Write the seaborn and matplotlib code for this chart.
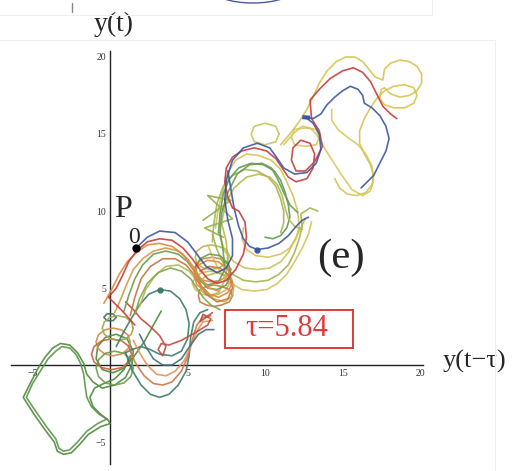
import numpy as np
import pandas as pd
import matplotlib
matplotlib.use("Agg")
import matplotlib.pyplot as plt
from matplotlib.patches import Rectangle, Ellipse
from matplotlib.lines import Line2D
import seaborn as sns

sns.set_theme(style="white")
plt.rcParams['font.family'] = ['Liberation Serif', 'DejaVu Serif']

# ---------------- data (data units) ----------------
green_loop_x = [1.3, 0.9, 0.3, -0.4, -1.0, -1.3, -1.1, -0.6, -0.1, 0.0, -0.6, -1.4, -2.0, -2.5, -3.0, -3.4, -3.6, -4.2, -4.9, -5.6, -5.2, -4.7, -4.2, -3.7, -3.2, -2.6, -2.1, -1.7, -1.5, -1.1, -0.5, 0.3, 1.0, 1.4, 1.5, 1.1, 0.4, -0.3, -0.8, -0.9, -0.5, 0.2, 0.9, 1.5, 2.2, 2.8, 3.3]
green_loop_y = [0.6, -0.3, -0.9, -1.2, -1.5, -2.1, -2.7, -3.2, -3.6, -3.8, -4.0, -4.5, -5.2, -5.7, -5.8, -5.6, -5.0, -4.2, -3.2, -2.1, -1.3, -0.3, 0.5, 1.1, 1.4, 1.3, 0.8, 0.1, -0.6, -1.1, -1.5, -1.3, -0.8, 0.0, 0.9, 1.7, 2.0, 1.8, 1.2, 0.4, -0.3, -0.5, -0.2, 0.5, 1.5, 2.6, 3.5]
green_inner_x = [-0.2, -0.8, -1.5, -2.1, -2.6, -3.0, -3.3, -3.5, -4.1, -4.8, -5.4, -5.0, -4.5, -4.0, -3.5, -3.1, -2.6, -2.2, -1.9, -1.7, -1.6, -1.5, -1.2, -0.7, -0.2]
green_inner_y = [-3.5, -3.8, -4.3, -5.0, -5.5, -5.6, -5.4, -4.8, -4.0, -3.0, -2.1, -1.2, -0.4, 0.4, 0.9, 1.2, 1.1, 0.7, 0.1, -0.6, -1.4, -2.1, -2.7, -3.2, -3.5]

oval1_x = [1.3, 1.16, 0.75, 0.2, -0.35, -0.76, -0.9, -0.76, -0.35, 0.2, 0.75, 1.16, 1.3]
oval1_y = [1.5, 1.95, 2.28, 2.4, 2.28, 1.95, 1.5, 1.05, 0.72, 0.6, 0.72, 1.05, 1.5]
oval2_x = [1.4, 1.23, 0.75, 0.1, -0.55, -1.03, -1.2, -1.03, -0.55, 0.1, 0.75, 1.23, 1.4]
oval2_y = [0.7, 1.2, 1.57, 1.7, 1.57, 1.2, 0.7, 0.2, -0.17, -0.3, -0.17, 0.2, 0.7]
oval3_x = [1.5, 1.34, 0.9, 0.3, -0.3, -0.74, -0.9, -0.74, -0.3, 0.3, 0.9, 1.34, 1.5]
oval3_y = [-0.2, 0.35, 0.76, 0.9, 0.76, 0.35, -0.2, -0.75, -1.16, -1.3, -1.16, -0.75, -0.2]
oval4_x = [0.4, 0.2, -0.2, -0.4, -0.2, 0.2, 0.4]
oval4_y = [3.1, 3.32, 3.32, 3.1, 2.88, 2.88, 3.1]
oval5_x = [1.5, 1.37, 1.0, 0.5, 0.0, -0.37, -0.5, -0.37, 0.0, 0.5, 1.0, 1.37, 1.5]
oval5_y = [2.4, 2.8, 3.1, 3.2, 3.1, 2.8, 2.4, 2.0, 1.7, 1.6, 1.7, 2.0, 2.4]

teal_x = [0.4, 0.8, 1.3, 1.9, 2.5, 3.2, 3.9, 4.5, 4.9, 5.1, 5.0, 4.6, 4.0, 3.2, 2.6, 2.0, 1.4, 1.0]
teal_y = [1.2, 2.0, 2.9, 3.9, 4.6, 4.9, 4.8, 4.3, 3.6, 2.7, 1.7, 0.9, 0.6, 0.7, 1.0, 1.2, 1.0, 0.8]
arc1_x = [1.0, 1.4, 2.0, 2.6, 3.2, 3.8, 4.4, 4.9, 5.1, 5.2, 5.4, 5.8, 6.3]
arc1_y = [0.8, -0.3, -1.3, -1.9, -2.1, -1.9, -1.3, -0.4, 0.6, 1.8, 2.8, 3.4, 3.6]
arc2_x = [1.2, 1.6, 2.2, 2.8, 3.4, 4.0, 4.6, 5.0, 5.3, 5.6, 6.0, 6.5]
arc2_y = [1.2, 0.2, -0.7, -1.2, -1.3, -1.1, -0.4, 0.5, 1.6, 2.6, 3.1, 3.2]
arc3_x = [1.5, 1.9, 2.4, 3.0, 3.6, 4.2, 4.8, 5.2, 5.6, 6.0, 6.6]
arc3_y = [1.6, 0.8, 0.0, -0.6, -0.7, -0.4, 0.3, 1.2, 2.2, 2.8, 2.9]
arc4_x = [1.9, 2.3, 2.8, 3.4, 4.0, 4.6, 5.2, 5.7, 6.2, 6.7]
arc4_y = [2.0, 1.2, 0.4, 0.0, 0.0, 0.4, 1.3, 2.0, 2.3, 2.3]
red_low_x = [6.6, 6.2, 5.8, 6.0, 6.5, 6.3, 5.5, 4.6, 3.8, 3.3, 3.1, 3.4, 3.6, 3.2, 2.6, 2.0, 1.5, 1.0]
red_low_y = [3.4, 3.1, 2.8, 3.3, 3.0, 2.6, 2.1, 1.6, 1.3, 1.4, 1.0, 0.6, 1.2, 1.9, 2.5, 3.0, 3.6, 4.1]

# stacked loops right of the P0 humps
col_oval1_x = [7.7, 7.5, 7.0, 6.5, 6.0, 5.6, 5.5, 5.6, 6.0, 6.5, 7.0, 7.5, 7.7]
col_oval1_y = [7.1, 7.5, 7.7, 7.8, 7.7, 7.4, 7.0, 6.6, 6.3, 6.2, 6.3, 6.6, 7.1]
col_oval2_x = [7.8, 7.6, 7.1, 6.6, 6.0, 5.6, 5.4, 5.6, 6.0, 6.6, 7.1, 7.6, 7.8]
col_oval2_y = [6.2, 6.6, 6.9, 7.0, 6.9, 6.6, 6.2, 5.8, 5.5, 5.4, 5.5, 5.8, 6.2]
col_oval3_x = [7.7, 7.5, 7.0, 6.5, 5.9, 5.5, 5.3, 5.5, 5.9, 6.5, 7.0, 7.5, 7.7]
col_oval3_y = [5.3, 5.7, 6.0, 6.1, 6.0, 5.7, 5.3, 4.9, 4.6, 4.5, 4.6, 4.9, 5.3]
col_oval4_x = [7.9, 7.7, 7.2, 6.7, 6.2, 5.8, 5.7, 5.8, 6.2, 6.7, 7.2, 7.7, 7.9]
col_oval4_y = [4.5, 4.9, 5.1, 5.2, 5.1, 4.9, 4.5, 4.1, 3.9, 3.8, 3.9, 4.1, 4.5]

blue1_x = [1.7, 2.4, 3.2, 4.2, 5.0, 5.6, 6.2, 6.9, 7.5, 7.9, 7.9, 7.6, 7.4, 7.5, 7.9, 8.6, 9.5, 10.3, 10.8, 11.2, 11.9, 12.7, 13.3, 13.6, 13.5, 13.1, 12.6]
blue1_y = [7.6, 8.3, 8.7, 8.6, 8.0, 7.2, 6.4, 6.0, 6.3, 7.1, 8.2, 9.4, 10.7, 12.0, 13.3, 14.1, 14.4, 14.1, 13.4, 12.8, 12.4, 12.5, 13.1, 14.0, 15.0, 15.7, 16.1]
blue2_x = [12.5, 13.1, 13.6, 14.0, 14.5, 15.0, 15.5, 16.0, 16.3, 16.4, 16.9, 17.4, 17.8, 18.0, 17.8, 17.4, 17.0, 16.5, 16.2]
blue2_y = [16.1, 16.0, 16.3, 16.9, 17.4, 17.8, 18.1, 17.9, 17.5, 17.0, 16.7, 16.2, 15.5, 14.7, 13.9, 13.1, 12.3, 11.8, 11.5]
blue3_x = [7.6, 7.8, 8.0, 8.3, 8.6, 9.0, 9.5, 10.2, 10.9, 11.5, 12.0, 12.4, 12.8]
blue3_y = [12.6, 11.4, 10.2, 9.0, 8.2, 7.7, 7.5, 7.6, 7.9, 8.4, 9.0, 9.4, 9.6]

red_x = [1.6, 0.8, -0.1, 0.4, 0.8, 1.2, 1.7, 2.4, 3.2, 4.0, 4.7, 5.3, 5.8, 6.3, 6.9, 7.5, 8.1, 8.6, 8.8, 8.7, 8.3, 7.9, 7.6, 7.4, 7.5, 7.9, 8.5, 9.3, 10.1, 10.7, 11.1, 11.5, 12.0, 12.7, 13.1, 13.2, 12.9, 12.3, 11.8, 11.7, 12.0, 12.6, 13.2, 13.7, 13.5, 13.0, 12.9, 13.5, 14.2, 15.0, 15.7, 16.3, 16.8, 17.2, 17.6, 18.1, 18.5]
red_y = [2.6, 3.5, 4.4, 5.0, 5.8, 6.7, 7.4, 8.0, 8.2, 8.1, 7.6, 6.9, 6.2, 5.6, 5.3, 5.5, 6.2, 7.2, 8.3, 9.3, 10.0, 10.2, 10.9, 11.9, 12.8, 13.5, 13.9, 14.1, 13.9, 13.4, 12.8, 12.2, 11.9, 12.1, 12.8, 13.7, 14.4, 14.6, 14.1, 13.3, 12.6, 12.6, 13.2, 14.2, 15.2, 16.0, 17.2, 17.9, 18.6, 19.1, 19.3, 19.0, 18.4, 17.6, 16.8, 16.3, 16.0]

orange_x = [-0.4, 0.1, 0.6, 1.1, 1.7, 2.4, 3.2, 4.0, 4.7, 5.2, 5.6, 5.9, 6.4, 7.0, 7.6, 7.9, 7.6, 7.0, 6.3, 5.7, 5.4, 5.6, 6.2]
orange_y = [4.0, 4.9, 5.9, 6.7, 7.3, 7.8, 7.9, 7.7, 7.2, 6.5, 5.8, 5.1, 4.6, 4.4, 4.7, 5.4, 6.2, 6.7, 6.8, 6.5, 5.9, 5.2, 4.8]
orange2_x = [0.3, 0.7, 1.1, 1.5, 2.1, 2.8, 3.6, 4.4, 5.0, 5.5, 5.9, 6.4, 7.0]
orange2_y = [3.4, 4.3, 5.3, 6.2, 6.9, 7.4, 7.6, 7.4, 6.9, 6.2, 5.5, 5.0, 4.8]
green_x = [0.9, 1.2, 1.6, 2.1, 2.8, 3.6, 4.4, 5.0, 5.5, 5.9, 6.3, 6.9, 7.5, 7.8, 7.6, 7.1, 6.4, 5.8, 5.5, 5.7, 6.3, 7.0, 7.4, 7.3, 7.1, 7.2, 7.6, 8.2, 9.0, 9.8, 10.4, 10.8, 11.2, 11.6, 12.1]
green_y = [3.5, 4.5, 5.6, 6.5, 7.2, 7.4, 7.2, 6.7, 6.0, 5.4, 5.0, 4.9, 5.2, 5.9, 6.6, 7.1, 7.2, 6.9, 6.3, 5.6, 5.2, 5.4, 6.2, 7.4, 8.6, 9.9, 11.2, 12.4, 13.0, 13.1, 12.8, 12.1, 11.2, 10.4, 9.9]
green2_x = [1.6, 1.9, 2.4, 3.1, 3.9, 4.6, 5.2, 5.6, 6.0, 6.5, 7.1]
green2_y = [3.3, 4.3, 5.3, 6.0, 6.3, 6.1, 5.6, 5.0, 4.4, 3.9, 3.6]
brown_x = [1.3, 1.6, 2.0, 2.6, 3.4, 4.2, 4.9, 5.4, 5.8, 6.2, 6.9, 7.6, 7.9, 7.7, 7.1, 6.4, 5.8]
brown_y = [3.2, 4.4, 5.6, 6.4, 6.9, 6.9, 6.5, 5.9, 5.2, 4.6, 4.1, 4.3, 5.0, 5.8, 6.3, 6.4, 6.1]
olive_x = [1.9, 2.3, 2.9, 3.6, 4.4, 5.1, 5.6, 6.1, 6.7, 7.4, 7.9, 8.0, 7.6, 6.9, 6.2, 5.8, 5.9, 6.4, 7.0, 7.4, 7.6, 7.5, 7.2, 7.4, 8.0, 8.8, 9.6, 10.3, 10.8, 11.1, 11.3, 11.5, 11.9, 12.4]
olive_y = [3.8, 4.9, 5.8, 6.4, 6.5, 6.1, 5.5, 4.9, 4.3, 4.1, 4.5, 5.2, 5.8, 6.0, 5.8, 5.4, 4.8, 4.5, 4.7, 5.5, 6.7, 8.0, 9.2, 10.4, 11.5, 12.2, 12.4, 12.2, 11.7, 11.0, 10.2, 9.5, 9.0, 8.8]

mid_yellow_x = [6.8, 7.0, 7.3, 7.6, 8.1, 8.8, 9.6, 10.4, 11.0, 11.4, 11.8, 12.1, 12.2, 12.0, 11.6, 11.0, 10.2, 9.4, 8.8, 8.5, 8.6]
mid_yellow_y = [8.9, 10.2, 11.4, 12.5, 13.3, 13.7, 13.6, 13.3, 12.7, 11.9, 11.0, 10.0, 9.0, 8.2, 7.6, 7.2, 7.0, 7.1, 7.5, 8.2, 8.9]
mid_u1_x = [6.6, 6.9, 7.3, 7.9, 8.6, 9.4, 10.2, 10.9, 11.5, 11.9, 12.2, 12.4, 12.3, 12.9, 13.4]
mid_u1_y = [8.5, 7.5, 6.6, 5.9, 5.5, 5.4, 5.5, 5.9, 6.5, 7.3, 8.2, 9.0, 9.8, 10.2, 10.0]
mid_u2_x = [6.3, 6.7, 7.2, 7.8, 8.5, 9.3, 10.1, 10.8, 11.4, 11.9, 12.4, 12.8, 13.0]
mid_u2_y = [7.8, 6.8, 5.9, 5.3, 4.9, 4.8, 4.9, 5.3, 5.9, 6.7, 7.6, 8.5, 9.3]
mid_u3_x = [7.0, 7.4, 8.0, 8.7, 9.5, 10.3, 11.0, 11.5, 11.9, 12.3, 12.6]
mid_u3_y = [8.6, 7.4, 6.7, 6.3, 6.2, 6.3, 6.7, 7.3, 8.1, 8.9, 9.5]
zig_x = [6.0, 7.8, 6.3, 7.9, 6.1, 7.3]
zig_y = [9.4, 10.7, 11.0, 9.5, 8.9, 8.3]
mid_green_x = [7.0, 7.1, 7.3, 7.7, 8.3, 9.1, 9.9, 10.6, 11.0, 11.3, 11.5, 11.6, 11.4, 11.0, 10.5, 10.0]
mid_green_y = [8.6, 9.9, 11.1, 12.1, 12.8, 13.1, 13.0, 12.6, 12.0, 11.2, 10.4, 9.6, 8.9, 8.4, 8.2, 8.3]
mid_green2_x = [6.6, 6.7, 6.9, 7.3, 7.9, 8.7, 9.5, 10.2, 10.7, 11.0, 11.2, 11.2, 11.0]
mid_green2_y = [8.0, 9.2, 10.5, 11.6, 12.3, 12.7, 12.6, 12.2, 11.6, 10.8, 10.0, 9.2, 8.6]

right_yellow_x = [11.2, 11.8, 12.4, 12.9, 13.3, 13.7, 14.2, 14.9, 15.6, 16.3, 16.8, 17.0, 16.9, 16.5, 16.0, 15.3, 14.7, 14.3, 14.3]
right_yellow_y = [14.3, 15.0, 15.5, 15.4, 15.0, 14.3, 13.5, 12.4, 11.4, 11.0, 11.3, 12.0, 12.9, 13.7, 14.3, 14.8, 15.3, 15.9, 16.6]
yel_oval_x = [13.5, 13.3, 12.6, 11.9, 11.7, 11.9, 12.6, 13.3, 13.5]
yel_oval_y = [14.8, 15.3, 15.4, 15.3, 14.8, 14.3, 14.2, 14.3, 14.8]
yel_oval2_x = [10.9, 10.7, 10.0, 9.3, 9.1, 9.3, 10.0, 10.7, 10.9]
yel_oval2_y = [15.0, 15.5, 15.7, 15.5, 15.0, 14.5, 14.3, 14.5, 15.0]
top_yellow_x = [11.0, 11.6, 12.2, 12.7, 13.1, 13.5, 14.0, 14.6, 15.2, 15.8, 16.3, 16.7, 17.1, 17.6, 17.7, 18.1, 18.7, 19.3, 19.8, 20.1, 20.1, 19.8, 19.3, 18.7, 18.1, 17.7, 17.5, 17.4, 17.7, 18.3, 19.0, 19.6, 19.8, 19.6, 19.0, 18.3, 17.7, 17.2, 16.8, 16.4, 16.1, 16.1, 16.4, 16.8, 17.0, 16.9, 16.5, 15.9, 15.3, 14.8, 14.5]
top_yellow_y = [14.3, 15.0, 15.8, 16.6, 17.4, 18.3, 19.1, 19.7, 20.0, 20.0, 19.7, 19.2, 18.7, 18.5, 19.2, 19.6, 19.8, 19.7, 19.4, 18.9, 18.3, 17.8, 17.5, 17.4, 17.6, 18.0, 17.9, 17.3, 16.9, 16.7, 16.7, 17.0, 17.5, 18.0, 18.2, 18.1, 17.8, 17.3, 16.7, 16.0, 15.2, 14.4, 13.7, 13.0, 12.3, 11.7, 11.2, 11.0, 11.1, 11.5, 12.1]

series = [
    ("green_loop", green_loop_x, green_loop_y, "#4e8a3c"),
    ("green_inner", green_inner_x, green_inner_y, "#5b9448"),
    ("oval1", oval1_x, oval1_y, "#d58a45"),
    ("oval2", oval2_x, oval2_y, "#c6643f"),
    ("oval3", oval3_x, oval3_y, "#6d9c4c"),
    ("oval4", oval4_x, oval4_y, "#3f6f6a"),
    ("oval5", oval5_x, oval5_y, "#9aab4c"),
    ("teal", teal_x, teal_y, "#3d7c6c"),
    ("arc1", arc1_x, arc1_y, "#3f7a6a"),
    ("arc2", arc2_x, arc2_y, "#c9784a"),
    ("arc3", arc3_x, arc3_y, "#df9456"),
    ("arc4", arc4_x, arc4_y, "#44707c"),
    ("red_low", red_low_x, red_low_y, "#c44a3c"),
    ("col_oval1", col_oval1_x, col_oval1_y, "#b9b450"),
    ("col_oval2", col_oval2_x, col_oval2_y, "#d28a44"),
    ("col_oval3", col_oval3_x, col_oval3_y, "#cdb856"),
    ("col_oval4", col_oval4_x, col_oval4_y, "#c77a42"),
    ("mid_u2", mid_u2_x, mid_u2_y, "#d6c35c"),
    ("mid_u3", mid_u3_x, mid_u3_y, "#c8c25a"),
    ("mid_u1", mid_u1_x, mid_u1_y, "#a5b44c"),
    ("mid_yellow", mid_yellow_x, mid_yellow_y, "#d4c256"),
    ("mid_green2", mid_green2_x, mid_green2_y, "#9fb850"),
    ("mid_green", mid_green_x, mid_green_y, "#5f9a55"),
    ("zig", zig_x, zig_y, "#93b046"),
    ("olive", olive_x, olive_y, "#b8b650"),
    ("brown", brown_x, brown_y, "#c8733e"),
    ("green2", green2_x, green2_y, "#7fa650"),
    ("green", green_x, green_y, "#6b9b4e"),
    ("orange2", orange2_x, orange2_y, "#d9954a"),
    ("orange", orange_x, orange_y, "#dc8a3e"),
    ("right_yellow", right_yellow_x, right_yellow_y, "#d9c760"),
    ("yel_oval", yel_oval_x, yel_oval_y, "#d8c55a"),
    ("yel_oval2", yel_oval2_x, yel_oval2_y, "#c9c35e"),
    ("top_yellow", top_yellow_x, top_yellow_y, "#d6c452"),
    ("blue3", blue3_x, blue3_y, "#3d57a0"),
    ("red", red_x, red_y, "#c83c3a"),
    ("blue1", blue1_x, blue1_y, "#3d57a0"),
    ("blue2", blue2_x, blue2_y, "#3d57a0"),
]

rows = []
for name, xs, ys, col in series:
    for i, (x, y) in enumerate(zip(xs, ys)):
        rows.append({"seg": name, "x": x, "y": y, "i": i})
df = pd.DataFrame(rows)
palette = {name: col for name, _, _, col in series}

# ---------------- figure ----------------
fig = plt.figure(figsize=(5.14, 4.71), dpi=100)
ax = fig.add_axes([0, 0, 1, 1])
ax.set_facecolor("white")

sns.lineplot(data=df, x="x", y="y", hue="seg", palette=palette, units="seg",
             estimator=None, sort=False, lw=1.2, alpha=0.9, legend=False, ax=ax,
             solid_joinstyle="round", solid_capstyle="round")

# special points
ax.plot([1.7], [7.6], "o", color="black", ms=5, zorder=5)
ax.plot([9.5], [7.5], "o", color="#3d57a0", ms=3.5, zorder=5)
ax.plot([3.2], [4.9], "o", color="#3d7c6c", ms=3.5, zorder=5)
ax.plot([12.4, 12.9], [16.1, 16.05], color="#3d57a0", lw=3, zorder=5, solid_capstyle="butt")

# axes through origin (Mathematica style)
ax.set_xlim(-7.1, 26.06)
ax.set_ylim(-6.88, 23.7)
for s in ["top", "right"]:
    ax.spines[s].set_visible(False)
ax.spines["left"].set_position(("data", 0))
ax.spines["bottom"].set_position(("data", 0))
ax.spines["left"].set_bounds(-6.4, 20.4)
ax.spines["bottom"].set_bounds(-6.4, 20.2)
for s in ["left", "bottom"]:
    ax.spines[s].set_color("#222222")
    ax.spines[s].set_linewidth(1.0)
    ax.spines[s].set_zorder(1)

ax.set_xticks([-5, 5, 10, 15, 20])
ax.set_yticks([-5, 5, 10, 15, 20])
ax.set_xticks([v for v in range(-6, 21) if v % 5 != 0], minor=True)
ax.set_yticks([v for v in range(-6, 21) if v % 5 != 0], minor=True)
ax.tick_params(axis="both", which="major", direction="in", length=5, width=0.9,
               color="#222222", labelsize=7, labelcolor="#333333", pad=3)
ax.tick_params(axis="both", which="minor", direction="in", length=2.5, width=0.7,
               color="#222222")
ax.set_xlabel("")
ax.set_ylabel("")

# labels
ax.text(0.26, 22.1, "y(t)", fontsize=20, ha="center", va="center")
ax.text(23.5, 0.2, "y(t\u2212\u03c4)", fontsize=19, ha="center", va="center")
ax.text(0.85, 10.1, "P", fontsize=23, ha="center", va="center")
ax.text(1.55, 8.25, "0", fontsize=17, ha="center", va="center")
ax.text(14.9, 6.95, "(e)", fontsize=31, ha="center", va="center")
ax.add_patch(Rectangle((7.42, 1.1), 8.26, 2.47, fill=False, ec="#e03a3a", lw=1.4, zorder=6))
ax.text(11.4, 2.4, "\u03c4=5.84", fontsize=22, color="#e03a3a", ha="center", va="center", zorder=7)

# faint frame remnants of the screenshot
fig.add_artist(Line2D([0, 432 / 514], [1 - 15 / 471, 1 - 15 / 471], transform=fig.transFigure, color="#eeeeee", lw=0.8))
fig.add_artist(Line2D([432 / 514, 432 / 514], [1 - 15 / 471, 1], transform=fig.transFigure, color="#eeeeee", lw=0.8))
fig.add_artist(Line2D([0, 495 / 514], [1 - 40 / 471, 1 - 40 / 471], transform=fig.transFigure, color="#efefef", lw=0.8))
fig.add_artist(Line2D([495 / 514, 495 / 514], [0, 1 - 40 / 471], transform=fig.transFigure, color="#efefef", lw=0.8))
fig.add_artist(Line2D([72 / 514, 72 / 514], [1 - 12 / 471, 1 - 3 / 471], transform=fig.transFigure, color="#888888", lw=1.0))
fig.add_artist(Ellipse((253 / 514, 1 + 12 / 471), 84 / 514, 30 / 471, transform=fig.transFigure,
                       fill=False, ec="#4a5a9a", lw=1.0))

fig.savefig("out.png", dpi=100, facecolor="white")
